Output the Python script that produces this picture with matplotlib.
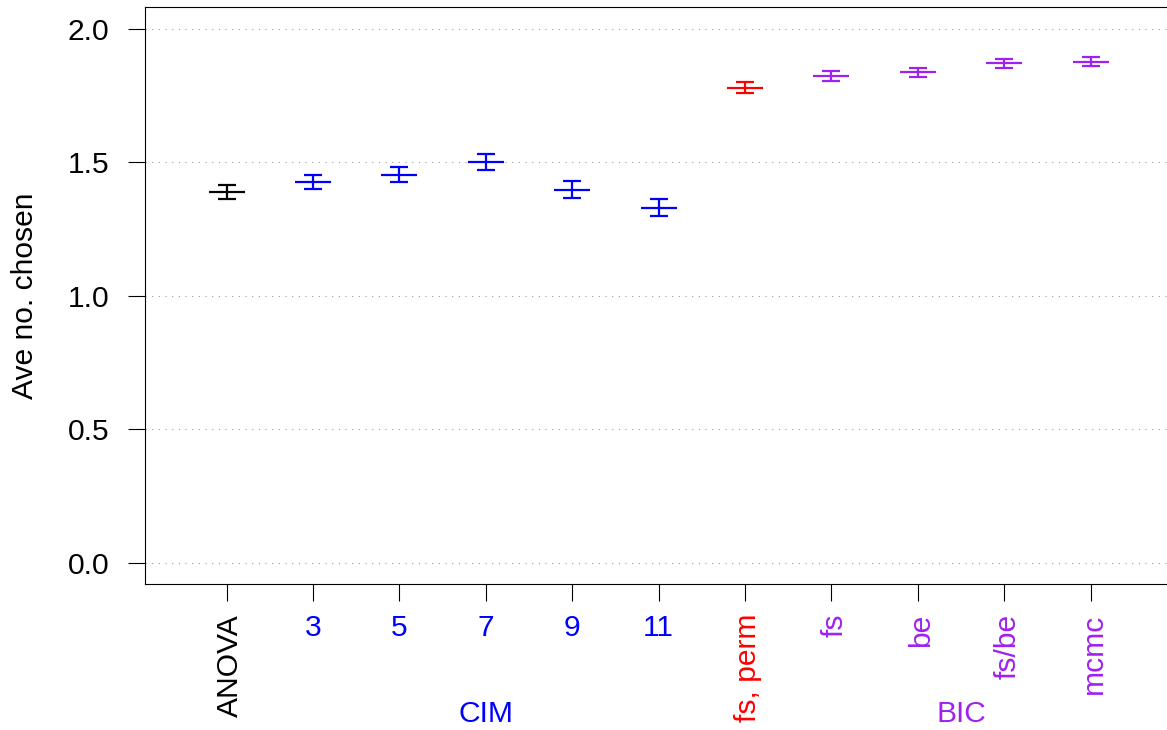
import matplotlib
matplotlib.use('Agg')
import matplotlib.pyplot as plt

# methods along the x axis
methods = ['ANOVA', '3', '5', '7', '9', '11', 'fs, perm', 'fs', 'be', 'fs/be', 'mcmc']
# average number chosen and its standard error
ave_chosen = [1.387, 1.425, 1.453, 1.501, 1.397, 1.329, 1.779, 1.823, 1.836, 1.870, 1.876]
se_chosen = [0.026, 0.027, 0.027, 0.029, 0.031, 0.032, 0.021, 0.020, 0.018, 0.017, 0.017]
method_colors = ['black', 'blue', 'blue', 'blue', 'blue', 'blue', 'red',
                 '#A020F0', '#A020F0', '#A020F0', '#A020F0']

# groups written under the tick labels
group_names = ['CIM', 'BIC']
group_members = [['3', '5', '7', '9', '11'], ['fs', 'be', 'fs/be', 'mcmc']]
group_colors = ['blue', '#A020F0']

y_ticks = [0.0, 0.5, 1.0, 1.5, 2.0]


def show_plot():
    plt.rcParams['font.family'] = ['Liberation Sans', 'DejaVu Sans']
    plt.rcParams['font.size'] = 21.6

    fig = plt.figure(figsize=(11.67, 7.30), dpi=100)
    # right edge of the box lies just outside the picture, like the original
    ax = fig.add_axes([145.3 / 1167, 1 - 584 / 730, (1172 - 145.3) / 1167, (584 - 7.3) / 730])

    x_data = list(range(1, len(methods) + 1))

    # error bars: wide line at the mean, short caps at +/- se
    for x, y, e, c in zip(x_data, ave_chosen, se_chosen, method_colors):
        ax.errorbar([x], [y], yerr=[e], fmt='_', color=c, markersize=26,
                    markeredgewidth=1.6, elinewidth=1.6, capsize=6.5, capthick=1.6)

    # axes ranges (R style 4% padding)
    ax.set_xlim(0.06, 11.94)
    ax.set_ylim(-0.08, 2.08)

    ax.set_yticks(y_ticks, ['%.1f' % t for t in y_ticks])
    ax.set_xticks(x_data, methods)
    ax.tick_params(axis='y', length=12.5, width=0.8, pad=13.5)
    ax.tick_params(axis='x', length=12.5, width=0.8, pad=9)

    for lab, c in zip(ax.get_xticklabels(), method_colors):
        lab.set_color(c)
        if not lab.get_text().isdigit():
            lab.set_rotation(90)
            lab.set_rotation_mode('anchor')
            lab.set_horizontalalignment('right')
            lab.set_verticalalignment('center_baseline')

    # dotted grid
    ax.yaxis.grid(True, linestyle=(0, (1, 5)), color='#9a9a9a', linewidth=0.8)
    ax.set_axisbelow(True)
    for sp in ax.spines.values():
        sp.set_linewidth(0.8)

    ax.set_ylabel('Ave no. chosen')
    ax.yaxis.set_label_coords(-0.1035, 0.5)

    # group names centred under their members
    for name, members, c in zip(group_names, group_members, group_colors):
        pos = [x_data[methods.index(m)] for m in members]
        ax.text(sum(pos) / len(pos), -0.2393, name, color=c,
                ha='center', va='baseline',
                transform=ax.get_xaxis_transform(), clip_on=False)

    fig.savefig('out.png', dpi=100)


if __name__ == "__main__":
    show_plot()
